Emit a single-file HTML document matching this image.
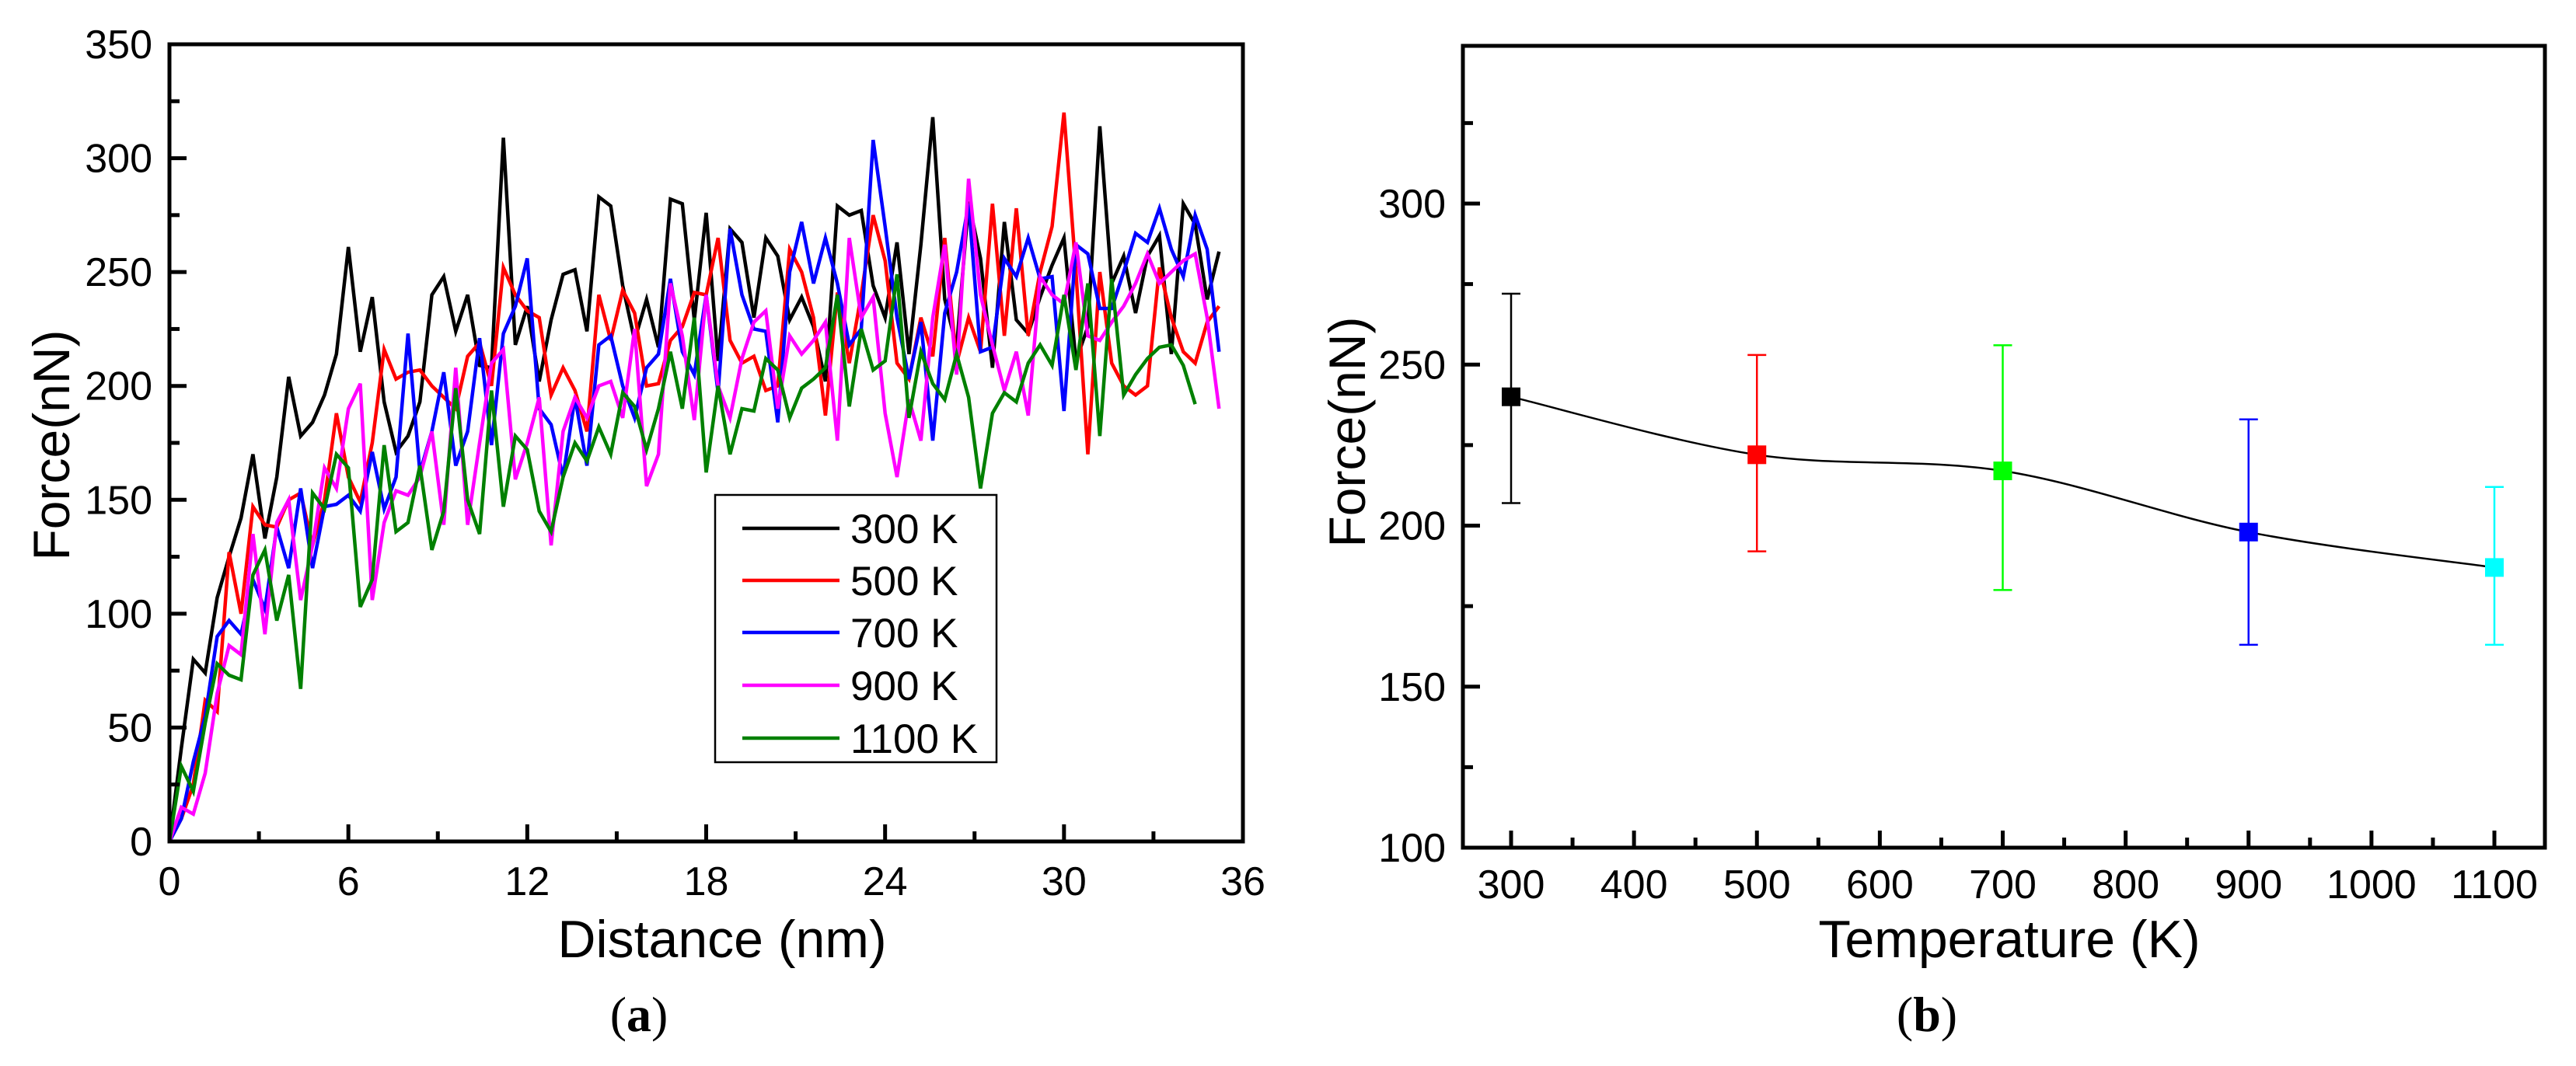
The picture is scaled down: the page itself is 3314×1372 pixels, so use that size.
<!DOCTYPE html>
<html><head><meta charset="utf-8"><style>
html,body{margin:0;padding:0;background:#fff}
svg{display:block}
text{font-family:"Liberation Sans",Arial,sans-serif;fill:#000}
</style></head><body>
<svg id="fig" width="3314" height="1372" viewBox="0 0 3314 1372" xmlns="http://www.w3.org/2000/svg">
<g id="pa"></g>
<g id="pb"></g>
</svg>
<script>
// ---------- Panel (a) data ----------
const distances = [0,0.4,0.8,1.2,1.6,2,2.4,2.8,3.2,3.6,4,4.4,4.8,5.2,5.6,6,6.4,6.8,7.2,7.6,8,8.4,8.8,9.2,9.6,10,10.4,10.8,11.2,11.6,12,12.4,12.8,13.2,13.6,14,14.4,14.8,15.2,15.6,16,16.4,16.8,17.2,17.6,18,18.4,18.8,19.2,19.6,20,20.4,20.8,21.2,21.6,22,22.4,22.8,23.2,23.6,24,24.4,24.8,25.2,25.6,26,26.4,26.8,27.2,27.6,28,28.4,28.8,29.2,29.6,30,30.4,30.8,31.2,31.6,32,32.4,32.8,33.2,33.6,34,34.4,34.8,35.2];
const force300 = [0,41,80,74,107,125,142,170,133,160,204,178,184,196,214,261,215,239,193,171,178,193,240,248,224,240,209,208,309,218,235,202,229,249,251,224,283,279,244,220,238,217,282,280,229,276,211,269,263,230,265,257,229,239,226,202,279,275,277,244,230,263,214,262,318,238,217,281,256,208,272,229,223,239,253,265,211,226,314,245,257,232,257,266,214,280,271,238,259];
const force500 = [0,10,25,62,57,127,100,147,139,138,150,153,130,150,188,160,149,175,216,203,206,207,200,195,190,213,219,200,252,240,233,230,196,208,198,180,240,220,242,232,200,201,220,226,241,240,265,220,210,213,198,200,260,250,230,187,241,210,240,275,255,210,203,230,213,265,210,230,215,280,222,278,222,250,270,320,250,170,250,210,200,196,200,252,230,215,210,228,235];
const force700 = [0,10,35,55,90,97,91,115,102,138,120,155,120,147,148,152,145,171,146,160,223,162,180,206,165,180,221,174,223,235,256,190,183,160,195,165,218,222,200,186,208,214,247,215,205,240,197,269,240,225,224,184,250,272,245,265,245,218,225,308,270,230,203,228,176,232,250,280,215,217,256,248,265,247,248,189,262,258,234,234,250,267,263,278,260,248,275,260,215];
const force900 = [0,15,12,30,65,86,82,135,91,140,150,106,130,164,155,190,201,106,140,154,152,160,180,139,208,139,175,210,216,159,175,195,130,180,195,186,200,202,186,225,156,170,245,222,185,240,200,186,212,228,233,190,222,214,220,228,176,265,230,239,188,160,194,176,230,262,205,291,240,218,198,215,187,248,240,236,263,222,220,228,235,245,258,245,250,255,258,230,190];
const force1100 = [0,33,22,52,78,73,71,117,128,97,117,67,153,146,170,164,103,115,174,136,140,165,128,145,199,150,135,198,147,178,172,145,136,160,175,167,182,170,197,191,172,190,215,190,230,162,200,170,190,189,212,207,186,199,203,208,240,191,225,207,211,249,186,215,201,194,214,195,155,188,197,193,210,218,209,240,207,245,178,247,196,205,212,217,218,209,192];
const seriesNames = ["300 K","500 K","700 K","900 K","1100 K"];
const seriesColors = ["#000000","#ff0000","#0000ff","#ff00ff","#008000"];
const xTicksA = [0,6,12,18,24,30,36];
const yTicksA = [0,50,100,150,200,250,300,350];

// ---------- Panel (b) data ----------
const temps = [300,500,700,900,1100];
const meanForce = [240,222,217,198,187];
const errLow = [207,192,180,163,163];
const errHigh = [272,253,256,233,212];
const pointColors = ["#000000","#ff0000","#00ff00","#0000ff","#00ffff"];
const xTicksB = [300,400,500,600,700,800,900,1000,1100];
const yTicksB = [100,150,200,250,300];

const NS="http://www.w3.org/2000/svg";
function mk(parent,tag,attrs){const e=document.createElementNS(NS,tag);for(const k in attrs)e.setAttribute(k,attrs[k]);parent.appendChild(e);return e;}

// ----- Panel A -----
const pa=document.getElementById('pa');
const A={l:218,r:1599,t:57,b:1083,xmin:0,xmax:36,ymin:0,ymax:350};
const xA=v=>A.l+(v-A.xmin)/(A.xmax-A.xmin)*(A.r-A.l);
const yA=v=>A.b-(v-A.ymin)/(A.ymax-A.ymin)*(A.b-A.t);
const allSeries=[force300,force500,force700,force900,force1100];
for(let s=0;s<allSeries.length;s++){
  const d=allSeries[s];let pts=[];
  for(let i=0;i<d.length&&i<distances.length;i++)pts.push(xA(distances[i]).toFixed(1)+','+yA(d[i]).toFixed(1));
  const pl=mk(pa,'polyline',{points:pts.join(' '),fill:'none',stroke:seriesColors[s],'stroke-width':4.5,'stroke-linejoin':'miter'});
  
  
}
for(let v=0;v<=36;v+=3){const major=v%6===0;const x=xA(v);const L=major?22:13;
  const t=mk(pa,'line',{x1:x,x2:x,y1:A.b,y2:A.b-L,stroke:'#000','stroke-width':5});
  }
for(let v=0;v<=350;v+=25){const major=v%50===0;const y=yA(v);const L=major?22:13;
  const t=mk(pa,'line',{x1:A.l,x2:A.l+L,y1:y,y2:y,stroke:'#000','stroke-width':5});
  }
xTicksA.forEach(v=>{const t=mk(pa,'text',{x:xA(v),y:1152,'font-size':52,'text-anchor':'middle'});t.textContent=v;
  });
yTicksA.forEach(v=>{const t=mk(pa,'text',{x:196,y:yA(v)+18,'font-size':52,'text-anchor':'end'});t.textContent=v;
  });
let fa=mk(pa,'rect',{x:A.l,y:A.t,width:A.r-A.l,height:A.b-A.t,fill:'none',stroke:'#000','stroke-width':5});

let xt=mk(pa,'text',{x:929,y:1232,'font-size':68,'text-anchor':'middle'});xt.textContent='Distance (nm)';

let yt=mk(pa,'text',{x:0,y:0,'font-size':66,'text-anchor':'middle',transform:'translate(89,573) rotate(-90)'});yt.textContent='Force(nN)';

const lg=mk(pa,'g',{});
mk(lg,'rect',{x:920,y:637,width:362,height:344,fill:'#fff',stroke:'#000','stroke-width':2.5});
const legY=[680,747,814,882,950];
for(let s=0;s<seriesNames.length;s++){
  const ge=mk(lg,'g',{});
  mk(ge,'line',{x1:955,x2:1080,y1:legY[s],y2:legY[s],stroke:seriesColors[s],'stroke-width':4.5});
  const tt=mk(ge,'text',{x:1094,y:legY[s]+19,'font-size':53});tt.textContent=seriesNames[s];
}
let la=mk(pa,'text',{x:822,y:1327,'font-size':64,'text-anchor':'middle',style:'font-family:"Liberation Serif",serif'});
la.innerHTML='(<tspan font-weight="bold">a</tspan>)';

// ----- Panel B -----
const pb=document.getElementById('pb');
const B={l:1882,r:3274,t:59,b:1091};
const xB=v=>1944+(v-300)/800*(3209-1944);
const yB=v=>1091-(v-100)/200*(1091-262);
for(let v=300;v<=1100;v+=50){const major=v%100===0;const x=xB(v);const L=major?22:13;
  const t=mk(pb,'line',{x1:x,x2:x,y1:B.b,y2:B.b-L,stroke:'#000','stroke-width':5});
  }
for(let v=100;v<=325;v+=25){const major=v%50===0;const y=yB(v);const L=major?22:13;
  const t=mk(pb,'line',{x1:B.l,x2:B.l+L,y1:y,y2:y,stroke:'#000','stroke-width':5});
  }
xTicksB.forEach(v=>{const t=mk(pb,'text',{x:xB(v),y:1156,'font-size':52,'text-anchor':'middle'});t.textContent=v;
  });
yTicksB.forEach(v=>{const t=mk(pb,'text',{x:1860,y:yB(v)+18,'font-size':52,'text-anchor':'end'});t.textContent=v;
  });
const P=temps.map((t,i)=>[xB(t),yB(meanForce[i])]);
let d='M'+P[0][0]+','+P[0][1];
for(let i=0;i<P.length-1;i++){const p0=P[i-1]||P[i],p1=P[i],p2=P[i+1],p3=P[i+2]||P[i+1];
  const c1=[p1[0]+(p2[0]-p0[0])/6,p1[1]+(p2[1]-p0[1])/6],c2=[p2[0]-(p3[0]-p1[0])/6,p2[1]-(p3[1]-p1[1])/6];
  d+=` C${c1[0]},${c1[1]} ${c2[0]},${c2[1]} ${p2[0]},${p2[1]}`;}
const cv=mk(pb,'path',{d:d,fill:'none',stroke:'#000','stroke-width':2.5});

for(let i=0;i<temps.length;i++){
  const g=mk(pb,'g',{});
  const x=xB(temps[i]),c=pointColors[i];
  mk(g,'line',{x1:x,x2:x,y1:yB(errLow[i]),y2:yB(errHigh[i]),stroke:c,'stroke-width':2.5});
  mk(g,'line',{x1:x-12,x2:x+12,y1:yB(errLow[i]),y2:yB(errLow[i]),stroke:c,'stroke-width':2.5});
  mk(g,'line',{x1:x-12,x2:x+12,y1:yB(errHigh[i]),y2:yB(errHigh[i]),stroke:c,'stroke-width':2.5});
  mk(g,'rect',{x:x-12,y:yB(meanForce[i])-12,width:24,height:24,fill:c});
}
let fb=mk(pb,'rect',{x:B.l,y:B.t,width:B.r-B.l,height:B.b-B.t,fill:'none',stroke:'#000','stroke-width':5});

let xt2=mk(pb,'text',{x:2585,y:1232,'font-size':68,'text-anchor':'middle'});xt2.textContent='Temperature (K)';

let yt2=mk(pb,'text',{x:0,y:0,'font-size':66,'text-anchor':'middle',transform:'translate(1756,556) rotate(-90)'});yt2.textContent='Force(nN)';

let lb=mk(pb,'text',{x:2479,y:1327,'font-size':64,'text-anchor':'middle',style:'font-family:"Liberation Serif",serif'});
lb.innerHTML='(<tspan font-weight="bold">b</tspan>)';
</script>
</body></html>
